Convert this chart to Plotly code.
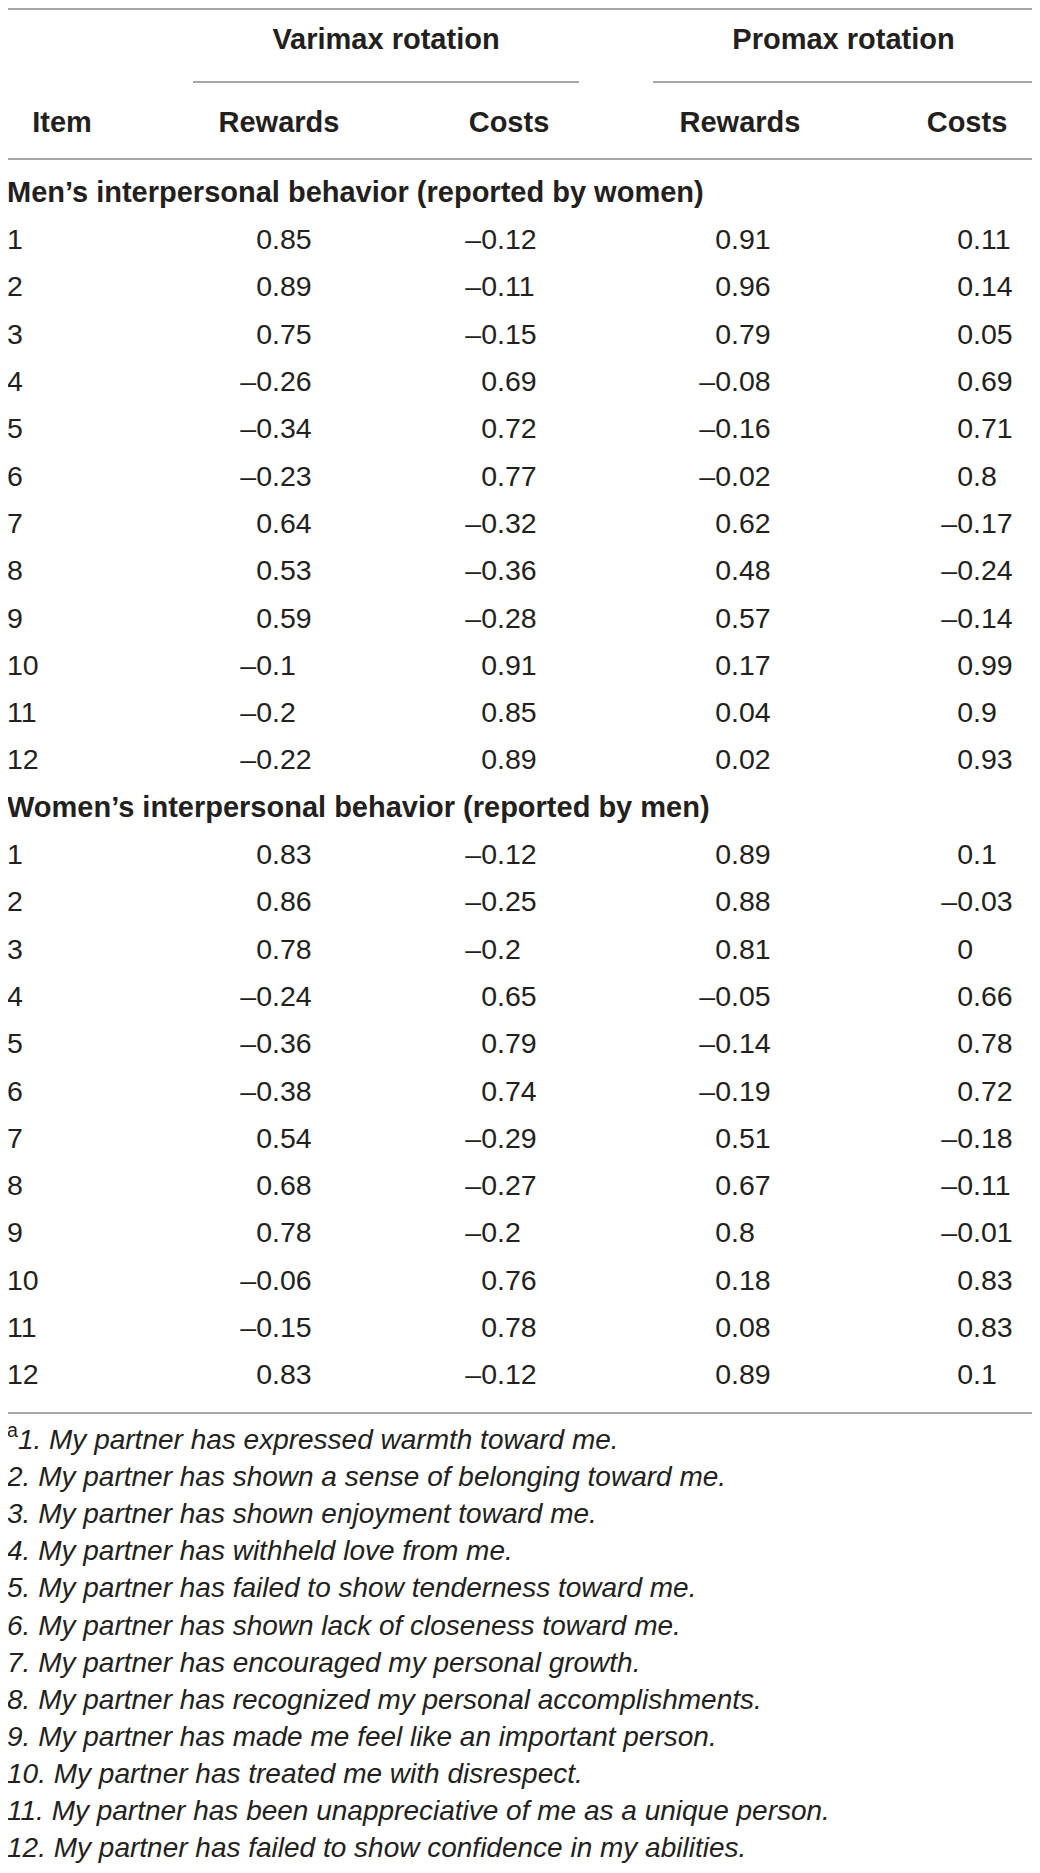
import plotly.graph_objects as go

# factor loadings, items 1-12
items = list(range(1, 13))

men_varimax_rewards = [0.85, 0.89, 0.75, -0.26, -0.34, -0.23, 0.64, 0.53, 0.59, -0.1, -0.2, -0.22]
men_varimax_costs = [-0.12, -0.11, -0.15, 0.69, 0.72, 0.77, -0.32, -0.36, -0.28, 0.91, 0.85, 0.89]
men_promax_rewards = [0.91, 0.96, 0.79, -0.08, -0.16, -0.02, 0.62, 0.48, 0.57, 0.17, 0.04, 0.02]
men_promax_costs = [0.11, 0.14, 0.05, 0.69, 0.71, 0.8, -0.17, -0.24, -0.14, 0.99, 0.9, 0.93]

women_varimax_rewards = [0.83, 0.86, 0.78, -0.24, -0.36, -0.38, 0.54, 0.68, 0.78, -0.06, -0.15, 0.83]
women_varimax_costs = [-0.12, -0.25, -0.2, 0.65, 0.79, 0.74, -0.29, -0.27, -0.2, 0.76, 0.78, -0.12]
women_promax_rewards = [0.89, 0.88, 0.81, -0.05, -0.14, -0.19, 0.51, 0.67, 0.8, 0.18, 0.08, 0.89]
women_promax_costs = [0.1, -0.03, 0, 0.66, 0.78, 0.72, -0.18, -0.11, -0.01, 0.83, 0.83, 0.1]

group_headers = ["Varimax rotation", "Promax rotation"]
col_headers = ["Item", "Rewards", "Costs", "Rewards", "Costs"]
sections = ["Men\u2019s interpersonal behavior (reported by women)",
            "Women\u2019s interpersonal behavior (reported by men)"]

footnotes = [
    "1. My partner has expressed warmth toward me.",
    "2. My partner has shown a sense of belonging toward me.",
    "3. My partner has shown enjoyment toward me.",
    "4. My partner has withheld love from me.",
    "5. My partner has failed to show tenderness toward me.",
    "6. My partner has shown lack of closeness toward me.",
    "7. My partner has encouraged my personal growth.",
    "8. My partner has recognized my personal accomplishments.",
    "9. My partner has made me feel like an important person.",
    "10. My partner has treated me with disrespect.",
    "11. My partner has been unappreciative of me as a unique person.",
    "12. My partner has failed to show confidence in my abilities.",
]

# layout in page pixels; the page body has an 8px margin, so the axes start at 8
W, H = 1040, 1873
OFF = 8
FONT = "Liberation Sans"
TXT = "#231f20"
RULE = "#8a8a8a"
SIZE = 28.5
NSIZE = 28
BSIZE = 29
ROW0, ROWH = 242, 47.3
NOTE0, NOTEH = 1442, 37.1
dec_x = [272, 497, 731, 973]       # decimal point of each value column
head_x = [62, 279, 509, 740, 967]
group_x = [386, 843.5]
LEFT = 7


def row_y(sec, i):
    return ROW0 + (sec * 13 + i) * ROWH


def fmt(v):
    s = f"{v:g}".replace("-", "\u2013")
    if "." in s:
        a, b = s.split(".")
        return a, "." + b
    return s, ""


def font(size=SIZE):
    return dict(family=FONT, size=size, color=TXT)


fig = go.Figure()

# header texts
fig.add_trace(go.Scatter(x=group_x, y=[42, 42], text=["<b>%s</b>" % g for g in group_headers],
                         mode="text", textposition="middle center", textfont=font(BSIZE)))
fig.add_trace(go.Scatter(x=head_x, y=[125] * 5, text=["<b>%s</b>" % h for h in col_headers],
                         mode="text", textposition="middle center", textfont=font(BSIZE)))

columns = [
    [men_varimax_rewards, men_varimax_costs, men_promax_rewards, men_promax_costs],
    [women_varimax_rewards, women_varimax_costs, women_promax_rewards, women_promax_costs],
]

for sec in range(2):
    # section title
    fig.add_trace(go.Scatter(x=[LEFT], y=[row_y(sec, -1)], text=["<b>%s</b>" % sections[sec]],
                             mode="text", textposition="middle right", textfont=font(BSIZE)))
    ys = [row_y(sec, i) for i in range(len(items))]
    fig.add_trace(go.Scatter(x=[LEFT] * len(items), y=ys, text=[str(i) for i in items],
                             mode="text", textposition="middle right", textfont=font()))
    for c, vals in enumerate(columns[sec]):
        parts = [fmt(v) for v in vals]
        fig.add_trace(go.Scatter(x=[dec_x[c]] * len(vals), y=ys, text=[p[0] for p in parts],
                                 mode="text", textposition="middle left", textfont=font()))
        fy = [y for y, p in zip(ys, parts) if p[1]]
        fig.add_trace(go.Scatter(x=[dec_x[c]] * len(fy), y=fy, text=[p[1] for p in parts if p[1]],
                                 mode="text", textposition="middle right", textfont=font()))

# footnotes
note_text = ["<i>%s</i>" % f for f in footnotes]
note_text[0] = "<sup>a</sup>" + note_text[0]
fig.add_trace(go.Scatter(x=[LEFT] * len(footnotes), y=[NOTE0 + i * NOTEH for i in range(len(footnotes))],
                         text=note_text, mode="text", textposition="middle right", textfont=font(NSIZE)))

# horizontal rules
rules = [(0, 1034, 9), (193, 579, 82), (653, 1034, 82), (0, 1034, 159), (0, 1034, 1413)]
for x0, x1, y in rules:
    fig.add_shape(type="line", x0=x0, x1=x1, y0=y, y1=y, xref="x", yref="y",
                  line=dict(color=RULE, width=1.5))

fig.update_layout(
    width=W - OFF - 6, height=H - 2 * OFF,
    margin=dict(l=0, r=0, t=0, b=0),
    paper_bgcolor="white", plot_bgcolor="white",
    showlegend=False, hovermode=False,
    xaxis=dict(range=[OFF, W - 6], visible=False, fixedrange=True),
    yaxis=dict(range=[H - OFF, OFF], visible=False, fixedrange=True),
)

fig.write_html("out.html")
